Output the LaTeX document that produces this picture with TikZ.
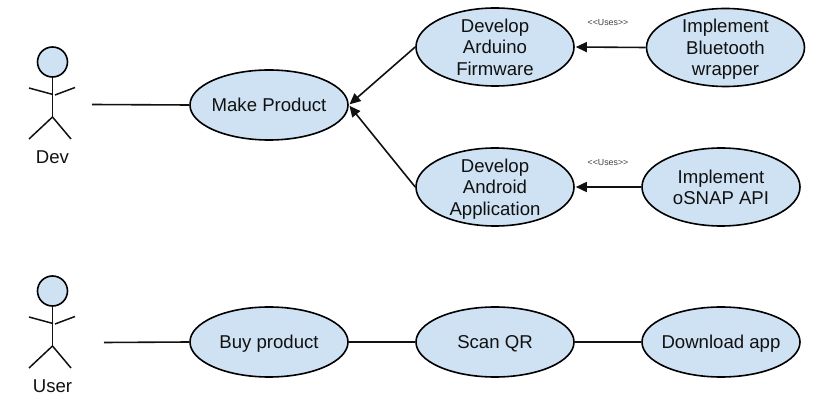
\documentclass[tikz,border=0pt]{standalone}
\usepackage{fontspec}
\setmainfont{Liberation Sans}
\usetikzlibrary{shapes.geometric,arrows.meta}
\definecolor{fillblue}{HTML}{CFE2F3}
\definecolor{inkc}{HTML}{111111}
\tikzset{
  usecase/.style={ellipse,draw=black,line width=1.6pt,fill=fillblue,inner sep=-16pt,minimum width=158pt,minimum height=78pt,align=center,font=\fontsize{18.6pt}{21.3pt}\selectfont,text=inkc,text depth=0pt},
  usecaseflat/.style={usecase,minimum height=70pt},
  head/.style={circle,draw=black,line width=1.6pt,fill=fillblue,inner sep=0pt,minimum size=30pt},
  limb/.style={draw=inkc,line width=1.5pt},
  link/.style={draw=inkc,line width=1.6pt},
  arrowlink/.style={link,-{Triangle[length=11pt,width=10pt]},shorten >=1pt},
  actorname/.style={font=\fontsize{18.6pt}{20pt}\selectfont,text=inkc,inner sep=0pt},
  stereo/.style={font=\fontsize{8.8pt}{10pt}\selectfont,text=inkc!80,inner sep=0pt}
}
\begin{document}
\begin{tikzpicture}[x=1pt,y=-1pt]
\useasboundingbox (0,0) rectangle (823,406);
% use cases
\node[usecaseflat] (make) at (269,105) {Make Product};
\node[usecase] (arduino) at (495,47) {Develop\\Arduino\\Firmware};
\node[usecase] (bluetooth) at (725.5,47.5) {Implement\\Bluetooth\\wrapper};
\node[usecase] (android) at (495,187) {Develop\\Android\\Application};
\node[usecase] (osnap) at (721,187) {Implement\\oSNAP API};
\node[usecaseflat] (buy) at (269,342) {Buy product};
\node[usecaseflat] (scan) at (495,342) {Scan QR};
\node[usecaseflat] (download) at (721,342) {Download app};
% actor Dev
\node[head] (devhead) at (52.5,62) {};
\coordinate (devhip) at (52.5,117);
\draw[limb] (devhead.south) -- (devhip);
\draw[limb] (29,88) -- (53,94.5);
\draw[limb] (55,95) -- (75,87.5);
\draw[limb] (devhip) -- (29,139);
\draw[limb] (devhip) -- (71,139);
\node[actorname] (devname) at (52.5,157) {Dev};
% actor User
\node[head] (userhead) at (52.5,291) {};
\coordinate (userhip) at (52.5,346);
\draw[limb] (userhead.south) -- (userhip);
\draw[limb] (29,317) -- (53,323.5);
\draw[limb] (55,324) -- (75,316.5);
\draw[limb] (userhip) -- (29,368);
\draw[limb] (userhip) -- (71,368);
\node[actorname] (username) at (52.5,386) {User};
% connectors
\coordinate (devend) at (92,104.5);
\coordinate (userend) at (104,342.5);
\draw[link] (devend) -- (make.west);
\draw[link] (userend) -- (buy.west);
\draw[link] (buy.east) -- (scan.west);
\draw[link] (scan.east) -- (download.west);
\draw[arrowlink] (arduino.west) -- (make.east);
\draw[arrowlink] (android.west) -- (make.east);
\draw[arrowlink] (bluetooth.west) -- (arduino.east);
\draw[arrowlink] (osnap.west) -- (android.east);
% stereotypes
\node[stereo] (uses1) at (608,23) {<{}<Uses>{}>};
\node[stereo] (uses2) at (608,163) {<{}<Uses>{}>};
\end{tikzpicture}
\end{document}
